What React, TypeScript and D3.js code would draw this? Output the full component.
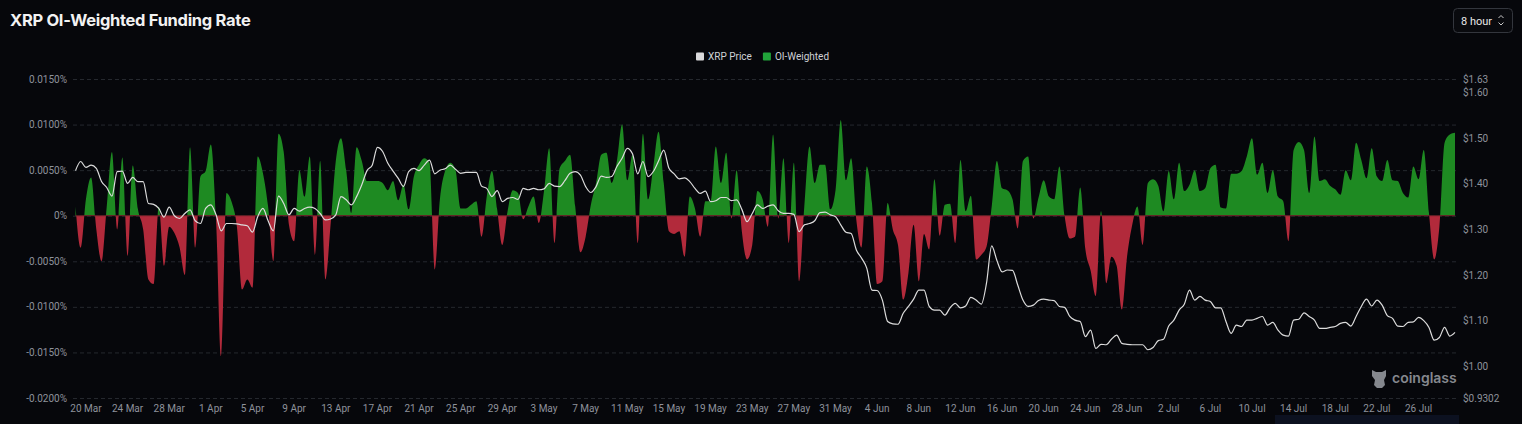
import { useEffect, useRef } from 'react'
import * as d3 from 'd3'

// ─── Data ─────────────────────────────────────────────────────────────────────
// one sample every 12h, starting 19 Mar 00:00 UTC

const START = Date.UTC(2025, 2, 19)
const STEP_MS = 12 * 3600 * 1000

// OI-weighted funding rate, in %
const FUNDING = [
  0.0010, -0.0035, 0.0018, 0.0042, -0.0015, -0.0050, 0.0010, 0.0070, -0.0015, 0.0064,
  -0.0044, 0.0055, 0.0007, -0.0015, -0.0070, -0.0075, 0.0010, -0.0055, -0.0012, -0.0019,
  -0.0035, -0.0065, 0.0075, -0.0035, 0.0043, 0.0049, 0.0078, -0.0005, -0.0154, 0.0025,
  0.0015, -0.0012, -0.0081, -0.0070, -0.0079, 0.0065, 0.0047, 0.0010, -0.0050, 0.0090,
  0.0070, -0.0010, -0.0028, 0.0050, 0.0021, 0.0065, -0.0043, 0.0060, -0.0070, -0.0010,
  0.0060, 0.0085, 0.0050, 0.0003, 0.0075, 0.0060, 0.0038, 0.0038, 0.0038, 0.0036,
  0.0028, 0.0038, 0.0017, 0.0034, 0.0007, 0.0043, 0.0056, 0.0063, 0.0058, -0.0059,
  0.0018, 0.0049, 0.0058, 0.0050, 0.0008, 0.0008, 0.0012, 0.0016, -0.0023, 0.0021,
  0.0049, 0.0007, -0.0032, 0.0005, 0.0028, 0.0025, -0.0004, 0.0010, 0.0021, -0.0008,
  0.0027, 0.0074, -0.0030, 0.0052, 0.0060, 0.0067, 0.0010, -0.0040, -0.0023, 0.0012,
  0.0036, 0.0067, 0.0069, 0.0036, 0.0060, 0.0100, 0.0039, 0.0067, -0.0030, 0.0090,
  0.0018, 0.0054, 0.0092, 0.0036, -0.0017, -0.0020, -0.0017, -0.0045, 0.0021, 0.0008,
  -0.0023, 0.0016, 0.0016, 0.0076, 0.0036, 0.0069, -0.0003, 0.0050, -0.0017, -0.0048,
  -0.0032, 0.0027, 0.0018, -0.0012, 0.0089, -0.0003, 0.0063, -0.0030, 0.0058, -0.0072,
  0.0010, 0.0076, 0.0036, 0.0056, 0.0056, 0.0007, 0.0028, 0.0105, 0.0039, 0.0063,
  -0.0005, -0.0035, 0.0054, 0.0014, -0.0075, -0.0072, 0.0014, -0.0015, -0.0032, -0.0092,
  -0.0063, -0.0010, -0.0072, -0.0020, -0.0037, 0.0040, -0.0022, 0.0012, 0.0013, -0.0030,
  0.0061, 0.0005, 0.0022, -0.0048, -0.0043, -0.0034, 0.0010, 0.0060, 0.0030, 0.0028,
  0.0018, -0.0014, 0.0060, 0.0065, -0.0003, 0.0020, 0.0039, 0.0021, 0.0018, 0.0054,
  0.0000, -0.0025, -0.0023, 0.0031, -0.0037, -0.0060, -0.0088, 0.0005, -0.0074, -0.0045,
  -0.0055, -0.0103, -0.0045, -0.0010, 0.0010, -0.0032, 0.0036, 0.0040, 0.0033, 0.0005,
  0.0049, 0.0018, 0.0058, 0.0027, 0.0034, 0.0050, 0.0027, 0.0030, 0.0052, 0.0056,
  0.0009, 0.0008, 0.0046, 0.0046, 0.0049, 0.0065, 0.0085, 0.0045, 0.0058, 0.0025,
  0.0050, 0.0021, 0.0016, -0.0028, 0.0072, 0.0081, 0.0072, 0.0025, 0.0087, 0.0038,
  0.0040, 0.0033, 0.0029, 0.0023, 0.0050, 0.0039, 0.0080, 0.0061, 0.0041, 0.0074,
  0.0043, 0.0038, 0.0061, 0.0039, 0.0038, 0.0025, 0.0020, 0.0054, 0.0040, 0.0072,
  0.0003, -0.0048, -0.0012, 0.0080, 0.0089, 0.0091,
]

// XRP price, in $
const PRICE = [
  1.429, 1.449, 1.436, 1.441, 1.434, 1.405, 1.392, 1.373, 1.427, 1.428,
  1.401, 1.414, 1.405, 1.405, 1.357, 1.355, 1.346, 1.327, 1.349, 1.330,
  1.324, 1.335, 1.343, 1.319, 1.313, 1.346, 1.354, 1.332, 1.297, 1.313,
  1.313, 1.312, 1.310, 1.308, 1.294, 1.328, 1.346, 1.319, 1.297, 1.373,
  1.357, 1.332, 1.346, 1.340, 1.346, 1.349, 1.346, 1.335, 1.321, 1.323,
  1.332, 1.372, 1.365, 1.354, 1.372, 1.398, 1.429, 1.441, 1.480, 1.471,
  1.445, 1.428, 1.412, 1.394, 1.427, 1.434, 1.429, 1.441, 1.452, 1.422,
  1.430, 1.433, 1.441, 1.432, 1.423, 1.425, 1.425, 1.425, 1.395, 1.390,
  1.372, 1.385, 1.361, 1.368, 1.370, 1.366, 1.390, 1.387, 1.390, 1.387,
  1.389, 1.401, 1.395, 1.394, 1.407, 1.423, 1.427, 1.419, 1.394, 1.381,
  1.394, 1.417, 1.414, 1.416, 1.438, 1.456, 1.478, 1.466, 1.422, 1.449,
  1.416, 1.427, 1.450, 1.474, 1.434, 1.422, 1.411, 1.413, 1.405, 1.390,
  1.379, 1.384, 1.361, 1.363, 1.370, 1.370, 1.363, 1.365, 1.344, 1.317,
  1.335, 1.354, 1.346, 1.351, 1.354, 1.341, 1.335, 1.335, 1.333, 1.295,
  1.310, 1.313, 1.319, 1.337, 1.338, 1.332, 1.328, 1.310, 1.294, 1.291,
  1.255, 1.237, 1.215, 1.167, 1.166, 1.145, 1.098, 1.093, 1.092, 1.116,
  1.131, 1.147, 1.167, 1.167, 1.131, 1.123, 1.123, 1.112, 1.128, 1.138,
  1.128, 1.132, 1.151, 1.145, 1.136, 1.182, 1.264, 1.232, 1.207, 1.211,
  1.210, 1.178, 1.145, 1.131, 1.134, 1.144, 1.147, 1.145, 1.144, 1.131,
  1.129, 1.109, 1.101, 1.098, 1.065, 1.079, 1.039, 1.048, 1.047, 1.059,
  1.068, 1.050, 1.048, 1.047, 1.047, 1.047, 1.036, 1.041, 1.056, 1.059,
  1.088, 1.101, 1.123, 1.136, 1.167, 1.145, 1.153, 1.145, 1.142, 1.128,
  1.128, 1.098, 1.072, 1.090, 1.087, 1.101, 1.101, 1.105, 1.109, 1.090,
  1.096, 1.079, 1.068, 1.066, 1.101, 1.103, 1.117, 1.109, 1.101, 1.083,
  1.083, 1.085, 1.087, 1.094, 1.096, 1.088, 1.109, 1.131, 1.147, 1.132,
  1.145, 1.134, 1.111, 1.105, 1.088, 1.087, 1.096, 1.097, 1.107, 1.100,
  1.085, 1.057, 1.063, 1.085, 1.066, 1.074,
]

const X_TICKS = [
  '20 Mar', '24 Mar', '28 Mar', '1 Apr', '5 Apr', '9 Apr', '13 Apr', '17 Apr', '21 Apr',
  '25 Apr', '29 Apr', '3 May', '7 May', '11 May', '15 May', '19 May', '23 May', '27 May',
  '31 May', '4 Jun', '8 Jun', '12 Jun', '16 Jun', '20 Jun', '24 Jun', '28 Jun', '2 Jul',
  '6 Jul', '10 Jul', '14 Jul', '18 Jul', '22 Jul', '26 Jul',
]
const RATE_TICKS = [0.015, 0.01, 0.005, 0, -0.005, -0.01, -0.015, -0.02]
const PRICE_TICKS = [1.63, 1.6, 1.5, 1.4, 1.3, 1.2, 1.1, 1.0, 0.9302]

const LEGEND = [
  { label: 'XRP Price', color: '#d9d9db' },
  { label: 'OI-Weighted', color: '#21a33a' },
]

// ─── Constants ────────────────────────────────────────────────────────────────

const W = 1522
const H = 424
const PLOT = { left: 73, right: 1456, top: 79, bottom: 398 }
const X_RANGE: [number, number] = [75.5, 1455]
const BG = '#06070b'
const GREEN = '#1e8a22'
const RED = '#b22a3b'
const LABEL = '#8e929b'
const FONT = 'Roboto, "Noto Sans", sans-serif'

const parseTick = d3.utcParse('%d %b %Y')

// ─── App ──────────────────────────────────────────────────────────────────────

export default function App() {
  const svgRef = useRef<SVGSVGElement>(null)

  useEffect(() => {
    if (!svgRef.current) return
    const svg = d3.select(svgRef.current)
    svg.selectAll('*').remove()

    const dates = FUNDING.map((_, i) => new Date(START + i * STEP_MS))

    const x = d3.scaleUtc().domain([dates[0], dates[dates.length - 1]]).range(X_RANGE)
    const yRate = d3.scaleLinear().domain([-0.02, 0.015]).range([PLOT.bottom, PLOT.top])
    const yPrice = d3.scaleLinear().domain([0.9302, 1.63]).range([PLOT.bottom, PLOT.top])
    const zeroY = yRate(0)

    svg.append('rect').attr('width', W).attr('height', H).attr('fill', BG)

    // Title
    svg.append('text')
      .attr('x', 10).attr('y', 26)
      .attr('fill', '#f2f2f2')
      .attr('font-family', 'Inter, Roboto, sans-serif')
      .attr('font-weight', 700)
      .attr('font-size', 16.5)
      .attr('letter-spacing', -0.3)
      .text('XRP OI-Weighted Funding Rate')

    // "8 hour" selector
    const sel = svg.append('g')
    sel.append('rect')
      .attr('x', 1453.5).attr('y', 8.5).attr('width', 59).attr('height', 24).attr('rx', 4)
      .attr('fill', '#090a0e').attr('stroke', '#33363d')
    sel.append('text')
      .attr('x', 1461).attr('y', 24.5)
      .attr('fill', '#e8e8e8').attr('font-family', FONT).attr('font-size', 11)
      .text('8 hour')
    sel.append('path')
      .attr('d', 'M1498.5,18 L1501,15.5 L1503.5,18 M1498.5,22.5 L1501,25 L1503.5,22.5')
      .attr('fill', 'none').attr('stroke', '#c8c8c8').attr('stroke-width', 1)

    // Legend
    const legend = svg.append('g').attr('font-family', FONT).attr('font-size', 10)
    let lx = 696
    LEGEND.forEach((item) => {
      legend.append('rect')
        .attr('x', lx).attr('y', 52.5).attr('width', 8).attr('height', 8).attr('rx', 1)
        .attr('fill', item.color)
      const t = legend.append('text')
        .attr('x', lx + 12).attr('y', 60)
        .attr('fill', '#cfd1d6')
        .text(item.label)
      const w = (t.node() as SVGTextElement).getComputedTextLength()
      lx += 12 + w + 11
    })

    // Gridlines
    svg.append('g')
      .selectAll('line')
      .data(RATE_TICKS)
      .join('line')
      .attr('x1', PLOT.left).attr('x2', PLOT.right)
      .attr('y1', (d) => yRate(d) + 0.5).attr('y2', (d) => yRate(d) + 0.5)
      .attr('stroke', '#25282e')
      .attr('stroke-dasharray', '4,3')

    // Left axis labels
    svg.append('g')
      .attr('font-family', FONT).attr('font-size', 10).attr('fill', LABEL)
      .attr('text-anchor', 'end')
      .selectAll('text')
      .data(RATE_TICKS)
      .join('text')
      .attr('x', 67)
      .attr('y', (d) => yRate(d) + 3.5)
      .text((d) => (d === 0 ? '0%' : `${d.toFixed(4)}%`))

    // Right axis labels
    svg.append('g')
      .attr('font-family', FONT).attr('font-size', 10).attr('fill', LABEL)
      .selectAll('text')
      .data(PRICE_TICKS)
      .join('text')
      .attr('x', 1463)
      .attr('y', (d) => yPrice(d) + 3.5)
      .text((d) => (d === 0.9302 ? '$0.9302' : `$${d.toFixed(2)}`))

    // X axis labels
    svg.append('g')
      .attr('font-family', FONT).attr('font-size', 10).attr('fill', LABEL)
      .attr('text-anchor', 'middle')
      .selectAll('text')
      .data(X_TICKS)
      .join('text')
      .attr('x', (d) => x(parseTick(`${d} 2025`) as Date))
      .attr('y', 412)
      .text((d) => d)

    // Funding area, split at zero
    const defs = svg.append('defs')
    defs.append('clipPath').attr('id', 'clip-pos')
      .append('rect')
      .attr('x', 0).attr('y', 0).attr('width', W).attr('height', zeroY)
    defs.append('clipPath').attr('id', 'clip-neg')
      .append('rect')
      .attr('x', 0).attr('y', zeroY).attr('width', W).attr('height', H - zeroY)

    const area = d3.area<number>()
      .x((_, i) => x(dates[i]))
      .y0(zeroY)
      .y1((d) => yRate(d))
      .curve(d3.curveMonotoneX)

    svg.append('path').datum(FUNDING)
      .attr('fill', GREEN)
      .attr('clip-path', 'url(#clip-pos)')
      .attr('d', area)
    svg.append('path').datum(FUNDING)
      .attr('fill', RED)
      .attr('clip-path', 'url(#clip-neg)')
      .attr('d', area)

    // Zero line
    svg.append('line')
      .attr('x1', X_RANGE[0]).attr('x2', X_RANGE[1])
      .attr('y1', zeroY).attr('y2', zeroY)
      .attr('stroke', '#6e1d27').attr('stroke-width', 1)

    // Price line
    const line = d3.line<number>()
      .x((_, i) => x(dates[i]))
      .y((d) => yPrice(d))
      .curve(d3.curveMonotoneX)

    svg.append('path').datum(PRICE)
      .attr('fill', 'none')
      .attr('stroke', '#dcdcdc')
      .attr('stroke-width', 1.2)
      .attr('stroke-linejoin', 'round')
      .attr('d', line)

    // Watermark
    const wm = svg.append('g').attr('fill', '#85888e')
    wm.append('path')
      .attr('d', 'M1372,370 L1376,372 L1382,372 L1386,370 L1386,376 L1384,380 L1385,385 L1382,388 L1377,388 L1374,385 L1375,380 L1372,376 Z')
    wm.append('text')
      .attr('x', 1392).attr('y', 383)
      .attr('font-family', 'Inter, Roboto, sans-serif')
      .attr('font-weight', 600)
      .attr('font-size', 14)
      .text('coinglass')

    // Zoom slider stub at the bottom
    svg.append('rect')
      .attr('x', 1275).attr('y', 415).attr('width', 184).attr('height', 9)
      .attr('fill', '#0c1120')
  }, [])

  return (
    <div style={{ width: W, height: H, background: BG }}>
      <style>{`body{margin:0;background:${BG}}`}</style>
      <svg ref={svgRef} width={W} height={H} style={{ display: 'block' }} />
    </div>
  )
}
